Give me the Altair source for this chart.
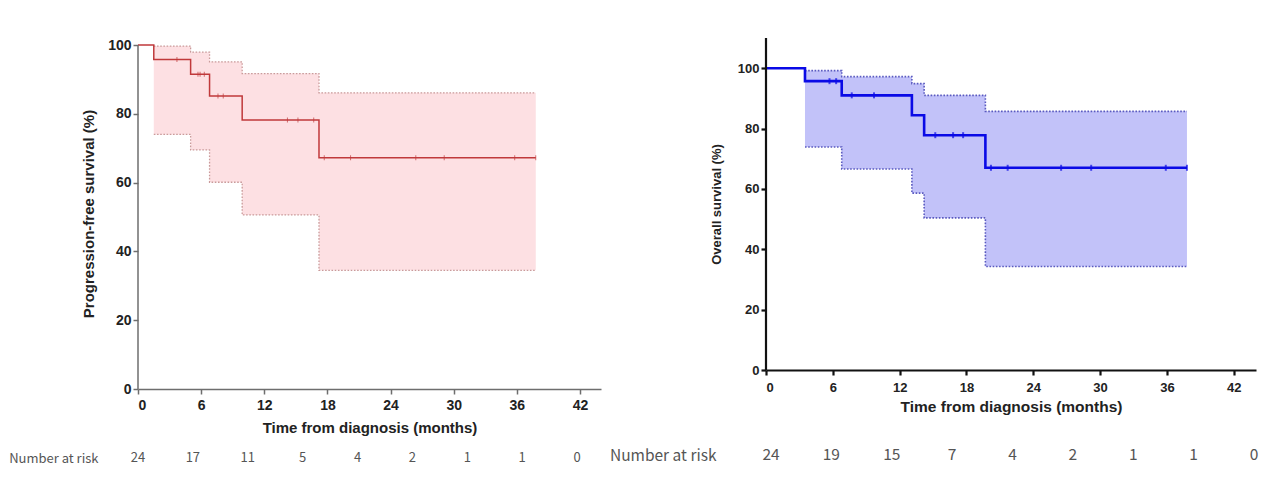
import altair as alt
import pandas as pd

# ---------------- data ----------------
# Progression-free survival (left panel)
pfs_time = [0, 1.5, 5.0, 6.8, 9.9, 17.2, 37.8]
pfs_surv = [100, 95.8, 91.5, 85.2, 78.2, 67.2, 67.2]
pfs_ci_time = [1.5, 5.0, 6.8, 9.9, 17.2, 37.8]
pfs_upper = [99.7, 97.9, 95.1, 91.7, 86.1, 86.1]
pfs_lower = [74.0, 69.5, 60.1, 50.6, 34.5, 34.5]
pfs_cens_time = [3.7, 5.7, 5.9, 6.3, 7.6, 8.1, 14.2, 15.2, 16.7, 17.7, 20.2, 26.4, 29.1, 35.8, 37.8]
pfs_cens_surv = [95.8, 91.5, 91.5, 91.5, 85.2, 85.2, 78.2, 78.2, 78.2, 67.2, 67.2, 67.2, 67.2, 67.2, 67.2]
pfs_risk = [24, 17, 11, 5, 4, 2, 1, 1, 0]

# Overall survival (right panel)
os_time = [0, 3.5, 6.8, 13.1, 14.2, 19.7, 37.8]
os_surv = [100, 95.7, 91.0, 84.4, 77.8, 67.0, 67.0]
os_ci_time = [3.5, 6.8, 13.1, 14.2, 19.7, 37.8]
os_upper = [99.2, 97.2, 94.9, 91.0, 85.7, 85.7]
os_lower = [73.9, 66.6, 58.6, 50.4, 34.3, 34.3]
os_cens_time = [5.7, 6.3, 7.7, 9.7, 15.2, 16.8, 17.7, 20.2, 21.7, 26.5, 29.2, 35.9, 37.8]
os_cens_surv = [95.7, 95.7, 91.0, 91.0, 77.8, 77.8, 77.8, 67.0, 67.0, 67.0, 67.0, 67.0, 67.0]
os_risk = [24, 19, 15, 7, 4, 2, 1, 1, 0]

x_ticks = [0, 6, 12, 18, 24, 30, 36, 42]
y_ticks = [0, 20, 40, 60, 80, 100]

FONT = "Liberation Sans"
RISK_FONT = "Noto Sans CJK SC"


def km_panel(time, surv, ci_t, up, lo, ct, cs, width, height, ydom, yline_top,
             line_col, fill_col, ci_col, ci_w, axis_col, axis_w, lw, tick_sz, tick_th,
             ytitle, label_size, title_size, ytitle_size,
             x_lpad, x_tpad, y_lpad, y_tpad):
    curve = pd.DataFrame({"t": time, "s": surv})
    ci = pd.DataFrame({"t": ci_t, "hi": up, "lo": lo})
    cens = pd.DataFrame({"t": ct, "s": cs})
    yline = pd.DataFrame({"t": [0], "y0": [0], "y1": [yline_top]})

    xs = alt.Scale(domain=[0, 44], nice=False, zero=False)
    ys = alt.Scale(domain=ydom, nice=False)
    xax = alt.Axis(values=x_ticks, title="Time from diagnosis (months)", grid=False,
                   domainColor=axis_col, domainWidth=axis_w, tickColor=axis_col,
                   tickWidth=axis_w, tickSize=5, labelPadding=x_lpad,
                   labelFont=FONT, labelFontSize=label_size, labelFontWeight="bold",
                   labelColor="#222", titleFont=FONT, titleFontSize=title_size,
                   titleFontWeight="bold", titleColor="#222", titlePadding=x_tpad)
    yax = alt.Axis(values=y_ticks, title=ytitle, grid=False, domain=False,
                   tickColor=axis_col, tickWidth=axis_w, tickSize=5, labelPadding=y_lpad,
                   labelFont=FONT, labelFontSize=label_size, labelFontWeight="bold",
                   labelColor="#222", titleFont=FONT, titleFontSize=ytitle_size,
                   titleFontWeight="bold", titleColor="#222", titlePadding=y_tpad)

    base_ci = alt.Chart(ci)
    area = base_ci.mark_area(interpolate="step-after", color=fill_col, opacity=1).encode(
        x=alt.X("t:Q", scale=xs, axis=xax),
        y=alt.Y("hi:Q", scale=ys, axis=yax),
        y2="lo:Q",
    )
    upper = base_ci.mark_line(interpolate="step-after", color=ci_col, strokeWidth=ci_w,
                              strokeDash=[1.6, 1.6]).encode(x="t:Q", y="hi:Q")
    lower = base_ci.mark_line(interpolate="step-after", color=ci_col, strokeWidth=ci_w,
                              strokeDash=[1.6, 1.6]).encode(x="t:Q", y="lo:Q")
    line = alt.Chart(curve).mark_line(interpolate="step-after", color=line_col,
                                      strokeWidth=lw).encode(x="t:Q", y="s:Q")
    ticks = alt.Chart(cens).mark_tick(orient="vertical", color=line_col, size=tick_sz,
                                      thickness=tick_th).encode(x="t:Q", y="s:Q")
    axis_line = alt.Chart(yline).mark_rule(color=axis_col, strokeWidth=axis_w).encode(
        x="t:Q", y="y0:Q", y2="y1:Q")
    return alt.layer(area, upper, lower, line, ticks, axis_line).properties(
        width=width, height=height)


def risk_panel(values, width, dom, font_size, lpad):
    df = pd.DataFrame({"i": list(range(len(values))), "n": values,
                       "row": ["Number at risk"] * len(values)})
    return alt.Chart(df).mark_text(font=RISK_FONT, fontSize=font_size, color="#555").encode(
        x=alt.X("i:Q", scale=alt.Scale(domain=dom, nice=False, zero=False), axis=None),
        y=alt.Y("row:N", axis=alt.Axis(title=None, domain=False, ticks=False, tickSize=0,
                                        labelPadding=lpad, labelFont=RISK_FONT,
                                        labelFontSize=font_size, labelColor="#555")),
        text="n:Q",
    ).properties(width=width, height=20)


# left panel: the plot area reaches 2 % above 100 so that its top sits lower than the right one
left_km = km_panel(pfs_time, pfs_surv, pfs_ci_time, pfs_upper, pfs_lower,
                   pfs_cens_time, pfs_cens_surv, 463, 351, [0, 102.035], 100,
                   "#c0393b", "#fde0e3", "#c99a9a", 1.3, "#6e6e6e", 1.5, 1.5, 5, 1,
                   "Progression-free survival (%)", 14, 15, 15,
                   4, 8, 2, 11)
right_km = km_panel(os_time, os_surv, os_ci_time, os_upper, os_lower,
                    os_cens_time, os_cens_surv, 490, 332, [0, 110], 110,
                    "#0a0ae6", "#c2c2f9", "#5a5ac0", 1.6, "#111111", 2.2, 2.6, 6, 2,
                    "Overall survival (%)", 13, 15.5, 13,
                    6, 5, 2, 14)

left_risk = risk_panel(pfs_risk, 463, [0, 8.437], 13, 40)
right_risk = risk_panel(os_risk, 490, [-0.0828, 8.033], 15.5, 50)

left_col = alt.vconcat(left_km, left_risk, spacing=59, bounds="flush")
right_col = alt.vconcat(right_km, right_risk, spacing=75, bounds="flush")

chart = alt.hconcat(left_col, right_col, spacing=8).properties(
    padding={"left": 0, "top": 28, "right": 0, "bottom": 0},
    background="white",
).configure_view(stroke=None)

chart.save("out.html", embed_options={"renderer": "svg", "actions": False})
